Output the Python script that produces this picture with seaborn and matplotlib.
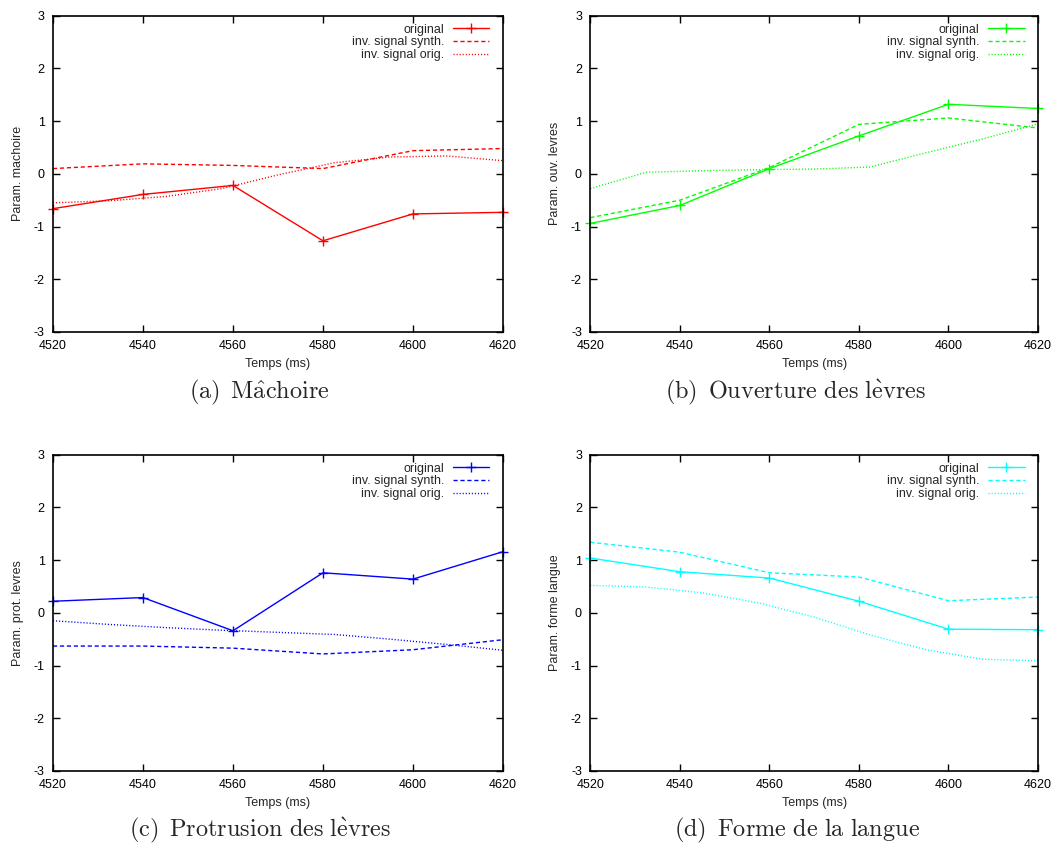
import matplotlib
matplotlib.use("Agg")
import matplotlib.pyplot as plt
import seaborn as sns


# temps des trames (ms)
TIME = [4520, 4540, 4560, 4580, 4600, 4620]
TIME_INV = [4520, 4532.5, 4545, 4557.5, 4570, 4582.5, 4595, 4607.5, 4620]

SERIES_LABELS = ["original", "inv. signal synth.", "inv. signal orig."]

jaw_orig = [-0.66, -0.39, -0.22, -1.27, -0.76, -0.73]
jaw_synth = [0.10, 0.19, 0.16, 0.10, 0.44, 0.48]
jaw_inv = [-0.55, -0.51, -0.43, -0.28, -0.02, 0.21, 0.32, 0.34, 0.25]

lips_open_orig = [-0.94, -0.60, 0.10, 0.72, 1.32, 1.24]
lips_open_synth = [-0.83, -0.50, 0.12, 0.94, 1.06, 0.87]
lips_open_inv = [-0.28, 0.03, 0.06, 0.08, 0.09, 0.13, 0.40, 0.66, 0.95]

lips_prot_orig = [0.22, 0.29, -0.34, 0.76, 0.64, 1.16]
lips_prot_synth = [-0.63, -0.63, -0.67, -0.78, -0.70, -0.51]
lips_prot_inv = [-0.15, -0.22, -0.28, -0.33, -0.37, -0.41, -0.50, -0.60, -0.71]

tongue_orig = [1.04, 0.78, 0.66, 0.22, -0.31, -0.32]
tongue_synth = [1.34, 1.15, 0.76, 0.68, 0.23, 0.30]
tongue_inv = [0.52, 0.49, 0.38, 0.19, -0.08, -0.42, -0.70, -0.88, -0.91]

PANELS = [
    {
        "ylabel": "Param. machoire",
        "caption": r"$\mathrm{(a)\ \,M\hat{a}choire}$",
        "color": "#ff0000",
        "data": (jaw_orig, jaw_synth, jaw_inv),
        "rect": [0.0498, 0.6076, 0.4229, 0.3738],
        "cap_xy": (0.2440, 1 - 398 / 846),
    },
    {
        "ylabel": "Param. ouv. levres",
        "caption": r"$\mathrm{(b)\ \,Ouverture\ des\ l\grave{e}vres}$",
        "color": "#00ff00",
        "data": (lips_open_orig, lips_open_synth, lips_open_inv),
        "rect": [0.5548, 0.6076, 0.4208, 0.3738],
        "cap_xy": (0.7480, 1 - 398 / 846),
    },
    {
        "ylabel": "Param. prot. levres",
        "caption": r"$\mathrm{(c)\ \,Protrusion\ des\ l\grave{e}vres}$",
        "color": "#0000ff",
        "data": (lips_prot_orig, lips_prot_synth, lips_prot_inv),
        "rect": [0.0498, 0.0887, 0.4229, 0.3738],
        "cap_xy": (0.2440, 1 - 836 / 846),
    },
    {
        "ylabel": "Param. forme langue",
        "caption": r"$\mathrm{(d)\ \,Forme\ de\ la\ langue}$",
        "color": "#00ffff",
        "data": (tongue_orig, tongue_synth, tongue_inv),
        "rect": [0.5548, 0.0887, 0.4208, 0.3738],
        "cap_xy": (0.7490, 1 - 836 / 846),
    },
]


def draw_panel(fig, panel):
    ax = fig.add_axes(panel["rect"])
    orig, synth, inv = panel["data"]
    color = panel["color"]

    sns.lineplot(x=TIME, y=orig, ax=ax, color=color, lw=1.0, marker="+",
                 markersize=7, markeredgewidth=1.0, markeredgecolor=color,
                 markerfacecolor=color, label=SERIES_LABELS[0], clip_on=False)
    sns.lineplot(x=TIME, y=synth, ax=ax, color=color, lw=1.0,
                 linestyle=(0, (3, 2)), label=SERIES_LABELS[1])
    sns.lineplot(x=TIME_INV, y=inv, ax=ax, color=color, lw=1.0,
                 linestyle=(0, (0.8, 1.4)), label=SERIES_LABELS[2])

    ax.set_xlim(4520, 4620)
    ax.set_ylim(-3, 3)
    ax.set_xticks(TIME)
    ax.set_yticks([-3, -2, -1, 0, 1, 2, 3])
    ax.tick_params(direction="in", top=True, right=True, length=5,
                   width=1.0, pad=6, labelsize=9, colors="black")
    for spine in ax.spines.values():
        spine.set_linewidth(1.2)
        spine.set_color("black")
    ax.set_xlabel("Temps (ms)", fontsize=9, labelpad=4)
    ax.set_ylabel(panel["ylabel"], fontsize=9, labelpad=7)

    ax.legend(loc="upper right", bbox_to_anchor=(0.97, 0.975), frameon=False,
              markerfirst=False, alignment="right", fontsize=9,
              handlelength=2.9, handletextpad=0.7, labelspacing=0.05,
              borderpad=0.0, borderaxespad=0.0)

    fig.text(panel["cap_xy"][0], panel["cap_xy"][1], panel["caption"],
             ha="center", va="baseline", fontsize=17.5)


def main():
    sns.set_style("ticks")
    plt.rcParams["font.family"] = ["Liberation Sans", "DejaVu Sans"]
    plt.rcParams["mathtext.fontset"] = "cm"
    plt.rcParams["axes.unicode_minus"] = False

    fig = plt.figure(figsize=(10.64, 8.46), dpi=100)
    for panel in PANELS:
        draw_panel(fig, panel)
    fig.savefig("out.png", dpi=100, facecolor="white")


if __name__ == "__main__":
    main()
